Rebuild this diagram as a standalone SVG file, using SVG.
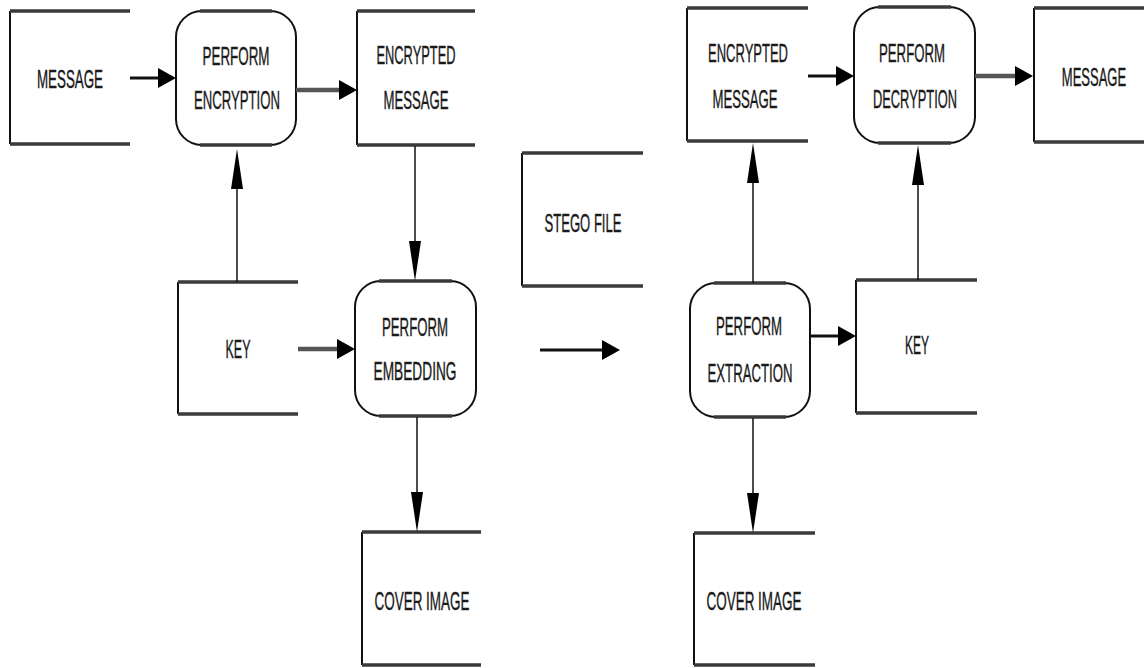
<svg xmlns="http://www.w3.org/2000/svg" width="1144" height="668" viewBox="0 0 1144 668">
<style>
.t{font-family:"Liberation Sans",Arial,sans-serif;font-size:26px;fill:#1a1a1a;stroke:#1a1a1a;stroke-width:0.4;text-anchor:middle}
.side{fill:none;stroke:#111;stroke-width:2}
.tb{fill:none;stroke:#3a3a3a;stroke-width:3.5}
.proc{fill:#fff;stroke:#111;stroke-width:2}
.thin{stroke:#111;stroke-width:1.5;fill:none}
.mid{stroke:#111;stroke-width:3;fill:none}
.thick{stroke:#555;stroke-width:4.5;fill:none}
</style>
<defs>
<marker id="h" markerUnits="userSpaceOnUse" viewBox="0 0 18 20" refX="1" refY="10" markerWidth="18" markerHeight="20" orient="auto">
<path d="M0,0 L18,10 L0,20 z" fill="#000"/>
</marker>
<marker id="v" markerUnits="userSpaceOnUse" viewBox="0 0 40 12" refX="1" refY="6" markerWidth="40" markerHeight="12" orient="auto">
<path d="M0,0 L40,6 L0,12 z" fill="#000"/>
</marker>
</defs>
<rect width="1144" height="668" fill="#fff"/>

<g id="msgL">
<path class="side" d="M10,11 V144"/><path class="tb" d="M10,11 H130 M10,144 H130"/>
<text class="t" x="70" y="88" textLength="66" lengthAdjust="spacingAndGlyphs">MESSAGE</text>
</g>
<g id="encrypt">
<rect class="proc" x="176" y="11" width="120" height="134" rx="26"/>
<path class="tb" d="M200,11 H272 M200,145 H272"/>
<text class="t" x="236" y="65" textLength="67" lengthAdjust="spacingAndGlyphs">PERFORM</text>
<text class="t" x="237" y="109" textLength="86" lengthAdjust="spacingAndGlyphs">ENCRYPTION</text>
</g>
<g id="encMsgL">
<path class="side" d="M357,11 V145"/><path class="tb" d="M357,11 H475 M357,145 H475"/>
<text class="t" x="416" y="64" textLength="79" lengthAdjust="spacingAndGlyphs">ENCRYPTED</text>
<text class="t" x="416" y="109" textLength="65" lengthAdjust="spacingAndGlyphs">MESSAGE</text>
</g>
<g id="keyL">
<path class="side" d="M178,282 V414"/><path class="tb" d="M178,282 H298 M178,414 H298"/>
<text class="t" x="238" y="358" textLength="25" lengthAdjust="spacingAndGlyphs">KEY</text>
</g>
<g id="embed">
<rect class="proc" x="355" y="281" width="121" height="135" rx="26"/>
<path class="tb" d="M379,281 H452 M379,416 H452"/>
<text class="t" x="415" y="336" textLength="66" lengthAdjust="spacingAndGlyphs">PERFORM</text>
<text class="t" x="415" y="380" textLength="83" lengthAdjust="spacingAndGlyphs">EMBEDDING</text>
</g>
<g id="coverL">
<path class="side" d="M362,532 V665"/><path class="tb" d="M362,532 H481 M362,665 H481"/>
<text class="t" x="422" y="610" textLength="95" lengthAdjust="spacingAndGlyphs">COVER IMAGE</text>
</g>
<g id="stego">
<path class="side" d="M522,153 V286"/><path class="tb" d="M522,153 H643 M522,286 H643"/>
<text class="t" x="583" y="232" textLength="77" lengthAdjust="spacingAndGlyphs">STEGO FILE</text>
</g>
<g id="encMsgR">
<path class="side" d="M687,8 V141"/><path class="tb" d="M687,8 H808 M687,141 H808"/>
<text class="t" x="748" y="62" textLength="80" lengthAdjust="spacingAndGlyphs">ENCRYPTED</text>
<text class="t" x="745" y="108" textLength="65" lengthAdjust="spacingAndGlyphs">MESSAGE</text>
</g>
<g id="decrypt">
<rect class="proc" x="854" y="7" width="121" height="136" rx="26"/>
<path class="tb" d="M878,7 H951 M878,143 H951"/>
<text class="t" x="912" y="62" textLength="66" lengthAdjust="spacingAndGlyphs">PERFORM</text>
<text class="t" x="915" y="108" textLength="84" lengthAdjust="spacingAndGlyphs">DECRYPTION</text>
</g>
<g id="msgR">
<path class="side" d="M1034,8 V142"/><path class="tb" d="M1034,8 H1144 M1034,142 H1144"/>
<text class="t" transform="translate(1094,86) scale(0.5,1)" x="0" y="0">MESSAGE</text>
</g>
<g id="extract">
<rect class="proc" x="690" y="283" width="120" height="134" rx="26"/>
<path class="tb" d="M714,283 H786 M714,417 H786"/>
<text class="t" x="749" y="335" textLength="66" lengthAdjust="spacingAndGlyphs">PERFORM</text>
<text class="t" x="750" y="382" textLength="85" lengthAdjust="spacingAndGlyphs">EXTRACTION</text>
</g>
<g id="keyR">
<path class="side" d="M856,280 V413"/><path class="tb" d="M856,280 H977 M856,413 H977"/>
<text class="t" x="917" y="354" textLength="24" lengthAdjust="spacingAndGlyphs">KEY</text>
</g>
<g id="coverR">
<path class="side" d="M694,533 V665"/><path class="tb" d="M694,533 H815 M694,665 H815"/>
<text class="t" x="754" y="610" textLength="95" lengthAdjust="spacingAndGlyphs">COVER IMAGE</text>
</g>

<g id="connectors">
<path class="mid" d="M130,78 H159" marker-end="url(#h)"/>
<path class="thick" d="M296,90 H340" marker-end="url(#h)"/>
<path class="thin" d="M415,146 V242" marker-end="url(#v)"/>
<path class="thin" d="M237,282 V188" marker-end="url(#v)"/>
<path class="thick" d="M298,349 H338" marker-end="url(#h)"/>
<path class="thin" d="M417,417 V493" marker-end="url(#v)"/>
<path class="mid" d="M540,350 H603" marker-end="url(#h)"/>
<path class="mid" d="M808,76 H837" marker-end="url(#h)"/>
<path class="thick" d="M975,76 H1016" marker-end="url(#h)"/>
<path class="thin" d="M753,283 V182" marker-end="url(#v)"/>
<path class="mid" d="M810,336 H839" marker-end="url(#h)"/>
<path class="thin" d="M918,280 V184" marker-end="url(#v)"/>
<path class="thin" d="M753,418 V494" marker-end="url(#v)"/>
</g>
</svg>
